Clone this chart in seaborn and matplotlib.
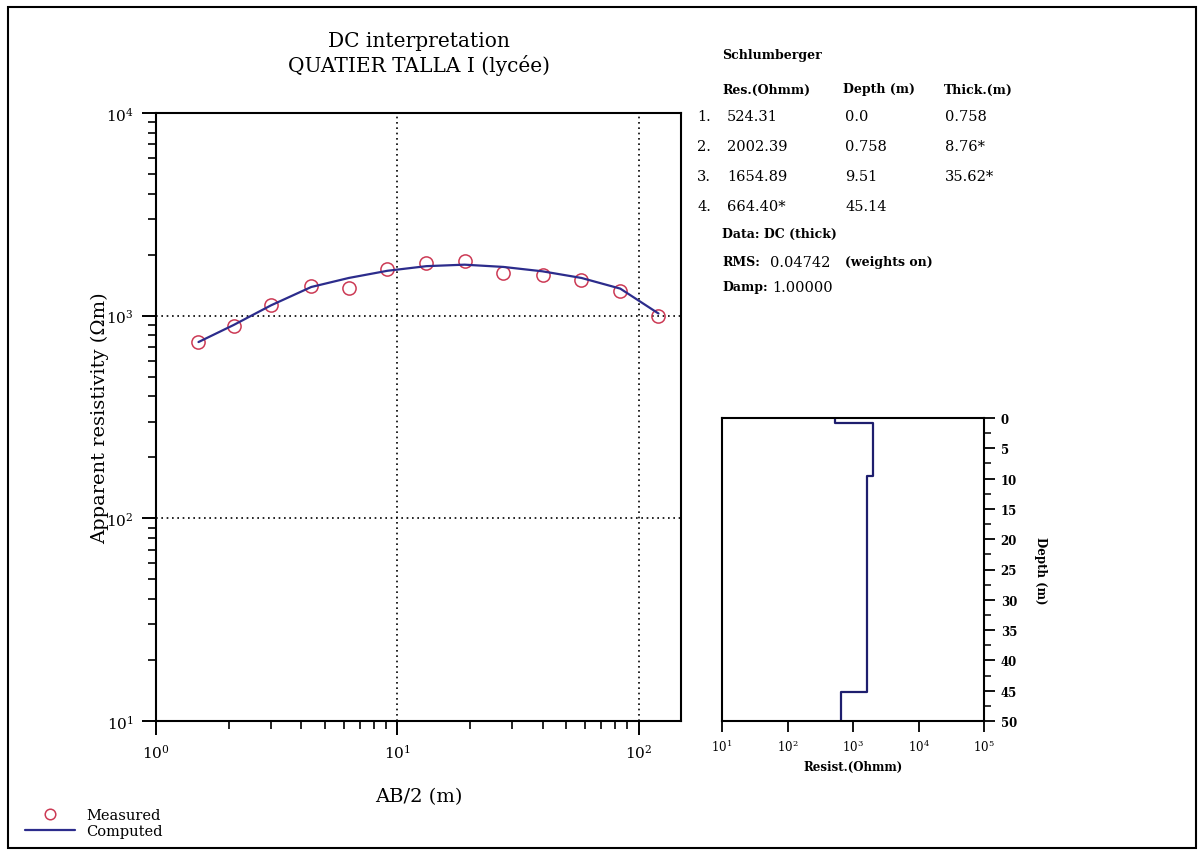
import numpy as np
import matplotlib
matplotlib.use("Agg")
import matplotlib.pyplot as plt
from matplotlib.ticker import LogLocator, FixedLocator, MultipleLocator, NullFormatter, NullLocator, LogFormatterSciNotation
from matplotlib.patches import Rectangle
import seaborn as sns

# ---- sounding data -------------------------------------------------------
ab2 = [1.5, 2.1, 3.0, 4.4, 6.3, 9.1, 13.2, 19.0, 27.5, 40.0, 58.0, 84.0, 121.0]
rho_measured = [738, 893, 1129, 1400, 1365, 1693, 1820, 1853, 1630, 1593, 1500, 1328, 1000]
rho_computed = [741, 900, 1125, 1385, 1535, 1665, 1755, 1785, 1740, 1655, 1535, 1360, 1025]

# ---- layered model -------------------------------------------------------
layer_res = [524.31, 2002.39, 1654.89, 664.40]
layer_top = [0.0, 0.758, 9.51, 45.14]
layer_thick = [0.758, 8.76, 35.62]
model_bottom = 50.0

res_labels = ["524.31", "2002.39", "1654.89", "664.40*"]
depth_labels = ["0.0", "0.758", "9.51", "45.14"]
thick_labels = ["0.758", "8.76*", "35.62*", ""]

W, H = 1204, 853

sns.set_style("ticks")
plt.rcParams["font.family"] = ["DejaVu Serif"]
plt.rcParams["mathtext.fontset"] = "dejavuserif"
for key in ("text.color", "axes.labelcolor", "xtick.color", "ytick.color",
            "axes.edgecolor"):
    plt.rcParams[key] = "black"

fig = plt.figure(figsize=(W / 100, H / 100), dpi=100)
fig.patch.set_facecolor("white")


def fx(px):
    return px / W


def fy(py):
    return 1 - py / H


# ---- apparent resistivity curve ------------------------------------------
ax = fig.add_axes([fx(156), fy(722), fx(681 - 156), (722 - 114) / H])
ax.set_xscale("log")
ax.set_yscale("log")
ax.set_xlim(1, 150)
ax.set_ylim(10, 1e4)

sns.lineplot(x=ab2, y=rho_measured, ax=ax, marker="o", linestyle="none",
             mfc="none", mec="#cc3a55", mew=1.1, ms=9.5, label="Measured",
             sort=False, estimator=None, zorder=3)
sns.lineplot(x=ab2, y=rho_computed, ax=ax, color="#2c2c8c", lw=1.6,
             label="Computed", sort=False, estimator=None, zorder=4)

ax.xaxis.set_major_locator(LogLocator(base=10, numticks=10))
ax.xaxis.set_minor_locator(LogLocator(base=10, subs=np.arange(2, 10), numticks=10))
ax.yaxis.set_major_locator(LogLocator(base=10, numticks=10))
ax.yaxis.set_minor_locator(LogLocator(base=10, subs=np.arange(2, 10), numticks=10))
ax.xaxis.set_major_formatter(LogFormatterSciNotation())
ax.yaxis.set_major_formatter(LogFormatterSciNotation())
ax.xaxis.set_minor_formatter(NullFormatter())
ax.yaxis.set_minor_formatter(NullFormatter())

ax.tick_params(which="major", direction="out", length=10, width=1.4,
               labelsize=11, top=False, right=False, pad=6)
ax.tick_params(which="minor", direction="out", length=6, width=1.2,
               top=False, right=False)
for s in ax.spines.values():
    s.set_linewidth(1.5)
    s.set_color("black")
    s.set_visible(True)

ax.grid(True, which="major", color="black", lw=1.2, ls=(0, (1, 2.2)))
ax.grid(False, which="minor")

ax.set_xlabel("AB/2 (m)", fontsize=14, va="center")
ax.xaxis.set_label_coords(0.5, -0.123)
ax.set_ylabel("Apparent resistivity (\u03A9m)", fontsize=14, va="center")
ax.yaxis.set_label_coords(-0.107, 0.5)

ax.set_title("DC interpretation\nQUATIER TALLA I (lyc\u00e9e)", fontsize=14.5,
             linespacing=1.25, pad=30)

handles, labels = ax.get_legend_handles_labels()
ax.get_legend().remove()
fig.legend(handles, labels, loc="center left",
           bbox_to_anchor=(fx(25), fy(824)), frameon=False, fontsize=10.5,
           handlelength=3.4, handletextpad=0.8, labelspacing=0.12,
           borderpad=0, borderaxespad=0, markerscale=0.8)

# ---- layered model panel --------------------------------------------------
ax2 = fig.add_axes([fx(722), fy(722), fx(984 - 722), (722 - 419) / H])
ax2.set_xscale("log")
ax2.set_xlim(10, 1e5)
ax2.set_ylim(model_bottom, 0)

bounds = layer_top + [model_bottom]
step_x, step_y = [], []
for i, r in enumerate(layer_res):
    step_x += [r, r]
    step_y += [bounds[i], bounds[i + 1]]
sns.lineplot(x=step_x, y=step_y, ax=ax2, color="#1e1e6e", lw=1.6,
             sort=False, estimator=None)

ax2.xaxis.set_major_locator(FixedLocator([1e1, 1e2, 1e3, 1e4, 1e5]))
ax2.xaxis.set_minor_locator(NullLocator())
ax2.xaxis.set_major_formatter(LogFormatterSciNotation())
ax2.yaxis.tick_right()
ax2.yaxis.set_label_position("right")
ax2.yaxis.set_major_locator(MultipleLocator(5))
ax2.yaxis.set_minor_locator(MultipleLocator(2.5))
ax2.tick_params(which="major", direction="out", length=8, width=1.3,
                labelsize=8.5, pad=4)
ax2.tick_params(which="minor", direction="out", length=5, width=1.1)
ax2.tick_params(axis="y", left=False, right=True, which="both")
ax2.tick_params(axis="x", top=False, which="both")
for lab in ax2.get_yticklabels():
    lab.set_fontweight("bold")
for s in ax2.spines.values():
    s.set_linewidth(1.5)
    s.set_color("black")
    s.set_visible(True)

ax2.set_xlabel("Resist.(Ohmm)", fontsize=8.5, fontweight="bold", va="center")
ax2.xaxis.set_label_coords(0.5, -0.149)
ax2.set_ylabel("Depth (m)", fontsize=8.5, fontweight="bold", rotation=270,
               va="center")
ax2.yaxis.set_label_coords(1.214, 0.5)

# ---- interpretation table -------------------------------------------------
hkw = dict(fontsize=9, fontweight="bold", va="center", ha="left",
           transform=fig.transFigure)
nkw = dict(fontsize=10.5, va="center", ha="left", transform=fig.transFigure)
fig.text(fx(722), fy(56), "Schlumberger", **hkw)
fig.text(fx(722), fy(90), "Res.(Ohmm)", **hkw)
fig.text(fx(843), fy(90), "Depth (m)", **hkw)
fig.text(fx(944), fy(90), "Thick.(m)", **hkw)
row_y = [117, 147, 177, 207]
for i in range(len(layer_res)):
    fig.text(fx(697), fy(row_y[i]), f"{i + 1}.", **nkw)
    fig.text(fx(727), fy(row_y[i]), res_labels[i], **nkw)
    fig.text(fx(845), fy(row_y[i]), depth_labels[i], **nkw)
    if thick_labels[i]:
        fig.text(fx(945), fy(row_y[i]), thick_labels[i], **nkw)
fig.text(fx(722), fy(234), "Data: DC (thick)", **hkw)
fig.text(fx(722), fy(263), "RMS:", **hkw)
fig.text(fx(770), fy(263), "0.04742", **nkw)
fig.text(fx(845), fy(263), "(weights on)", **hkw)
fig.text(fx(722), fy(288), "Damp:", **hkw)
fig.text(fx(772), fy(288), "1.00000", **nkw)

# ---- outer frame ----------------------------------------------------------
fig.add_artist(Rectangle((fx(8), fy(849)), fx(1196 - 8), (849 - 8) / H,
                         transform=fig.transFigure, fill=False,
                         lw=1.5, ec="black"))

fig.savefig("out.png", dpi=100, facecolor="white")
